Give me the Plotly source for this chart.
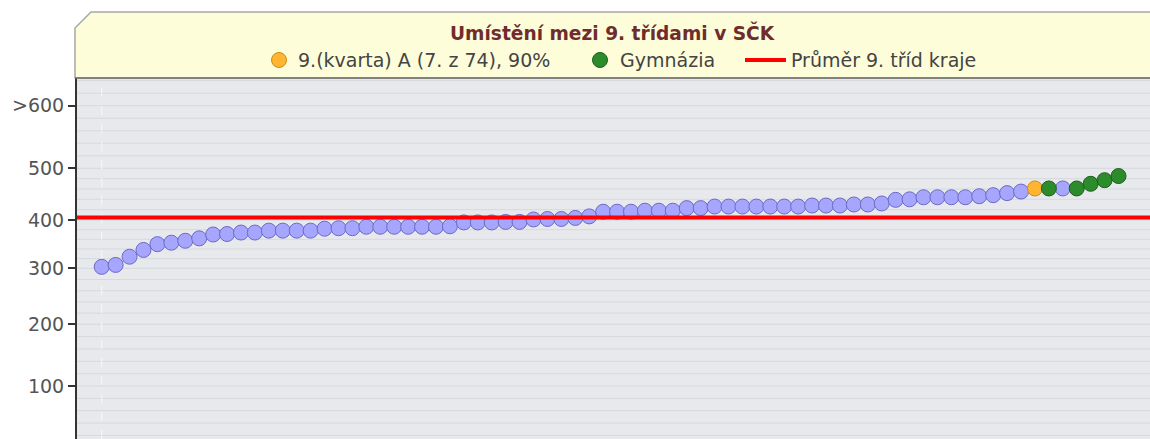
import numpy as np
import plotly.graph_objects as go

# ---------------- data ----------------
scores = [303, 307, 324, 338, 350, 353, 357, 362, 370, 371,
          374, 374, 378, 378, 378, 378, 382, 383, 383, 386,
          386, 386, 386, 386, 386, 387, 395, 395, 395, 396,
          396, 401, 402, 402, 404, 407, 416, 416, 416, 418,
          418, 418, 423, 423, 426, 426, 426, 426, 426, 426,
          426, 428, 428, 428, 430, 430, 432, 439, 440, 444,
          444, 444, 444, 446, 448, 452, 455, 461, 461, 461,
          461, 470, 477, 485]
ranks = list(range(1, len(scores) + 1))
# category of each class: 0 = other, 1 = this class, 2 = gymnázium
kinds = [0] * 67 + [1, 2, 0, 2, 2, 2, 2]
region_avg = 405

tick_values = [100, 200, 300, 400, 500, 600]
tick_labels = ["100", "200", "300", "400", "500", ">600"]
grid_values = list(range(20, 660, 20))

title_text = "Umístění mezi 9. třídami v SČK"
legend_labels = ["9.(kvarta) A (7. z 74), 90%", "Gymnázia", "Průměr 9. tříd kraje"]

# ---------------- non-linear score scale ----------------
_scale_pos = [53.0, 114.7, 170.7, 219.0, 270.7, 333.3]


def ypos(v):
    v = np.asarray(v, dtype=float)
    tv = np.array(tick_values, dtype=float)
    tp = np.array(_scale_pos)
    out = np.interp(v, tv, tp)
    lo = v < tv[0]
    hi = v > tv[-1]
    out = np.where(lo, tp[0] + (v - tv[0]) * (tp[1] - tp[0]) / (tv[1] - tv[0]), out)
    out = np.where(hi, tp[-1] + (v - tv[-1]) * (tp[-1] - tp[-2]) / (tv[-1] - tv[-2]), out)
    return out


W, H = 1150, 439
ML, MT = 77, 78
PW, PH = W - ML, H - MT


def px(x):
    return (x - ML) / PW


def py(y):
    return (H - y) / PH


styles = {
    0: dict(color="#a6a6ff", line=dict(color="#6a6ac4", width=1)),
    1: dict(color="#ffb531", line=dict(color="#d08a10", width=1)),
    2: dict(color="#2c8c2c", line=dict(color="#1c5e1c", width=1)),
}

fig = go.Figure()
for k in [0, 1, 2]:
    xs = [r for r, kk in zip(ranks, kinds) if kk == k]
    ys = [s for s, kk in zip(scores, kinds) if kk == k]
    fig.add_trace(go.Scatter(
        x=xs, y=ypos(ys), mode="markers", showlegend=False,
        marker=dict(size=15, **styles[k]),
        hoverinfo="skip"))

shapes = []
# horizontal grid
for g in grid_values:
    shapes.append(dict(type="line", xref="paper", x0=0, x1=1, yref="y",
                       y0=float(ypos(g)), y1=float(ypos(g)),
                       line=dict(color="#d6d9dd", width=1), layer="below"))
# faint vertical dashed line at first class
shapes.append(dict(type="line", xref="x", x0=ranks[0], x1=ranks[0], yref="paper", y0=0, y1=1,
                   line=dict(color="#f6f7f8", width=1, dash="dash"), layer="below"))
# region average line
shapes.append(dict(type="line", xref="paper", x0=0, x1=1, yref="y",
                   y0=float(ypos(region_avg)), y1=float(ypos(region_avg)),
                   line=dict(color="#ff0000", width=4), layer="above"))
# header box with chamfered corner
shapes.append(dict(type="path", xref="paper", yref="paper",
                   path=f"M {px(75)} {py(78)} L {px(75)} {py(28)} L {px(91)} {py(12)} "
                        f"L {px(1160)} {py(12)} L {px(1160)} {py(78)} Z",
                   fillcolor="#fdfdda", line=dict(color="#a8a8a8", width=1.5), layer="below"))
shapes.append(dict(type="line", xref="paper", yref="paper", x0=px(75), x1=px(1160),
                   y0=1, y1=1, line=dict(color="#6e6e6e", width=1.5)))

# legend (manual)
ly = py(60)
r = 7.5
shapes.append(dict(type="circle", xref="paper", yref="paper",
                   x0=px(279 - r), x1=px(279 + r), y0=py(60 + r), y1=py(60 - r),
                   fillcolor="#ffb531", line=dict(color="#d08a10", width=1)))
shapes.append(dict(type="circle", xref="paper", yref="paper",
                   x0=px(600 - r), x1=px(600 + r), y0=py(60 + r), y1=py(60 - r),
                   fillcolor="#2c8c2c", line=dict(color="#1c5e1c", width=1)))
shapes.append(dict(type="line", xref="paper", yref="paper",
                   x0=px(745), x1=px(786), y0=ly, y1=ly,
                   line=dict(color="#ff0000", width=4)))

legend_font = dict(family="DejaVu Sans", size=19, color="#444444")
annotations = [
    dict(text=f"<b>{title_text}</b>", xref="paper", yref="paper", x=px(612), y=py(32),
         xanchor="center", yanchor="middle", showarrow=False,
         font=dict(family="DejaVu Sans", size=18.6, color="#702c2c")),
    dict(text=legend_labels[0], xref="paper", yref="paper", x=px(296), y=ly,
         xanchor="left", yanchor="middle", showarrow=False, font=legend_font),
    dict(text=legend_labels[1], xref="paper", yref="paper", x=px(618), y=ly,
         xanchor="left", yanchor="middle", showarrow=False, font=legend_font),
    dict(text=legend_labels[2], xref="paper", yref="paper", x=px(789), y=ly,
         xanchor="left", yanchor="middle", showarrow=False, font=legend_font),
]

fig.update_layout(
    width=W, height=H,
    margin=dict(l=ML, r=0, t=MT, b=0, pad=0),
    paper_bgcolor="white", plot_bgcolor="#e7e9ec",
    shapes=shapes, annotations=annotations,
    xaxis=dict(range=[-0.773, 76.26], showgrid=False, zeroline=False,
               showticklabels=False, ticks="", showline=False, fixedrange=True),
    yaxis=dict(range=[0, PH], showgrid=False, zeroline=False,
               tickmode="array", tickvals=list(ypos(tick_values)), ticktext=tick_labels,
               ticks="outside", ticklen=7, tickwidth=1.5, tickcolor="#333333",
               showline=True, linecolor="#333333", linewidth=2,
               tickfont=dict(family="DejaVu Sans", size=19, color="#555555"),
               fixedrange=True),
    showlegend=False,
)

fig.write_html("out.html", config={"displayModeBar": False},
               post_script="document.body.style.margin='0';")
